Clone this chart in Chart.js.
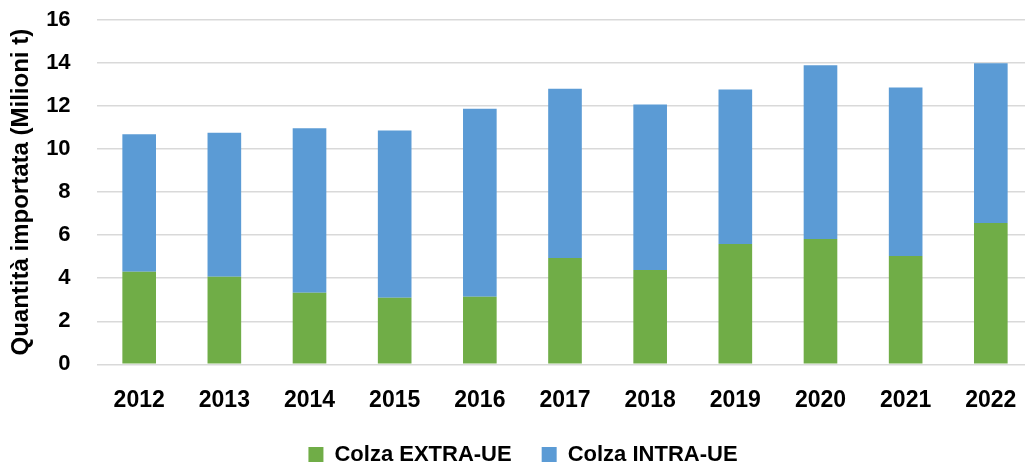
<!DOCTYPE html>
<html lang="it">
<head>
<meta charset="utf-8">
<title>Importazioni di colza</title>
<script src="https://cdn.jsdelivr.net/npm/chart.js@4/dist/chart.umd.min.js"></script>
<style>
  html, body { margin: 0; padding: 0; background: #fff; overflow: hidden; }
  #wrap { position: relative; width: 1046px; height: 465px; }
</style>
</head>
<body>
<div id="wrap"><canvas id="chart"></canvas></div>
<script>
// Dati (milioni di tonnellate)
const years = ['2012', '2013', '2014', '2015', '2016', '2017', '2018', '2019', '2020', '2021', '2022'];
const extraUE = [4.30, 4.07, 3.32, 3.09, 3.14, 4.94, 4.38, 5.59, 5.82, 5.03, 6.57];
const intraUE = [6.39, 6.69, 7.65, 7.78, 8.73, 7.87, 7.69, 7.18, 8.08, 7.83, 7.42];
const yTicks = [0, 2, 4, 6, 8, 10, 12, 14, 16];

const FONT = "'Liberation Sans', Arial, sans-serif";
const colors = { extra: '#70AD47', intra: '#5B9BD5', grid: '#D9D9D9', text: '#000000' };

new Chart(document.getElementById('chart'), {
  type: 'bar',
  data: {
    labels: years,
    datasets: [
      { label: 'Colza EXTRA-UE', data: extraUE, backgroundColor: colors.extra, barPercentage: 0.395, categoryPercentage: 1 },
      { label: 'Colza INTRA-UE', data: intraUE, backgroundColor: colors.intra, barPercentage: 0.395, categoryPercentage: 1 }
    ]
  },
  options: {
    responsive: true,
    maintainAspectRatio: false,
    animation: false,
    // padding negativo in basso: il legend di Chart.js riserva più spazio di quello visibile
    layout: { padding: { top: 20, right: 12.6, bottom: -10.5, left: 12.6 } },
    plugins: {
      tooltip: { enabled: false },
      legend: {
        position: 'bottom',
        labels: {
          boxWidth: 15,
          boxHeight: 15,
          padding: 30,
          color: colors.text,
          font: { family: FONT, size: 22, weight: 'bold' }
        }
      }
    },
    scales: {
      x: {
        stacked: true,
        grid: { display: false, drawTicks: false },
        border: { display: false },
        ticks: { color: colors.text, padding: 22.9, font: { family: FONT, size: 23, weight: 'bold' } },
        afterFit: (s) => { s.height = 49.2; }
      },
      y: {
        stacked: true,
        min: 0,
        max: 16,
        afterBuildTicks: (s) => { s.ticks = yTicks.map(v => ({ value: v })); },
        grid: { color: colors.grid, lineWidth: 1.5, drawTicks: false },
        border: { display: false },
        ticks: { color: colors.text, padding: 26, font: { family: FONT, size: 22, weight: 'bold' } },
        title: {
          display: true,
          text: 'Quantità importata (Milioni t)',
          color: colors.text,
          padding: { top: -6, bottom: 0 },
          font: { family: FONT, size: 24, weight: 'bold' }
        },
        afterFit: (s) => { s.width = 84; s.paddingTop = 0; s.paddingBottom = 0; }
      }
    }
  }
});
</script>
</body>
</html>
